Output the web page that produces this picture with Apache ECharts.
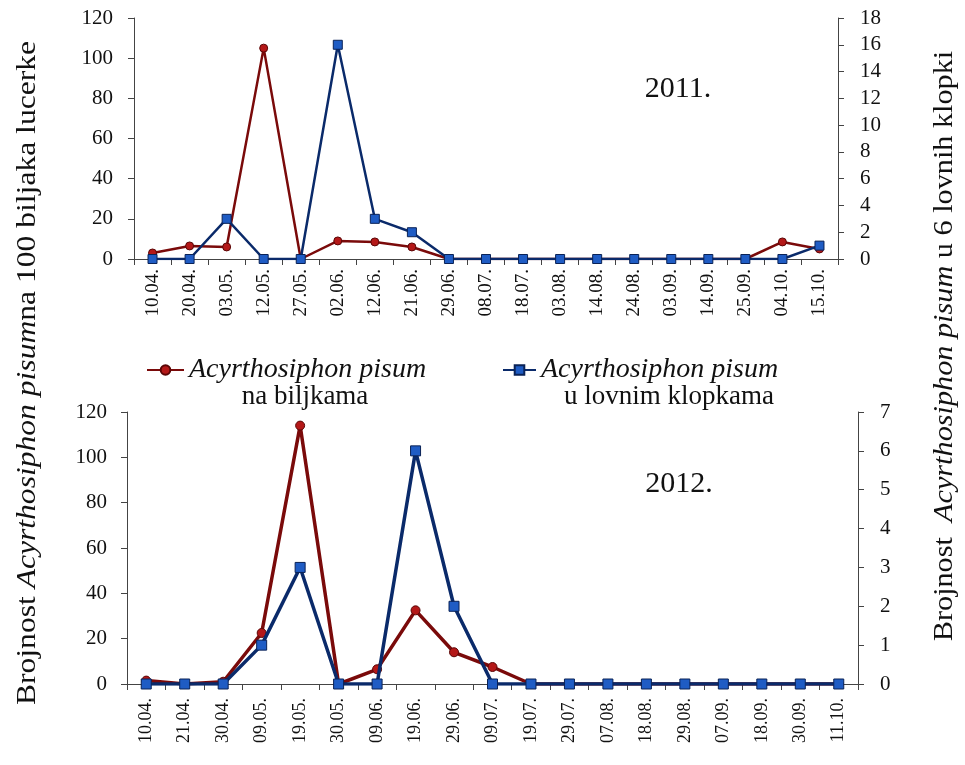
<!DOCTYPE html>
<html>
<head>
<meta charset="utf-8">
<script src="https://cdn.jsdelivr.net/npm/echarts@6/dist/echarts.min.js"></script>
<style>html,body{margin:0;padding:0;background:#fff;}#c{width:965px;height:765px;}</style>
</head>
<body>
<div id="c"></div>
<script>
var dates2011 = ['10.04.','20.04.','03.05.','12.05.','27.05.','02.06.','12.06.','21.06.','29.06.','08.07.','18.07.','03.08.','14.08.','24.08.','03.09.','14.09.','25.09.','04.10.','15.10.'];
var plants2011 = [3,6.5,6,105,0,9,8.5,6,0,0,0,0,0,0,0,0,0,8.5,5];
var traps2011 = [0,0,3,0,0,16,3,2,0,0,0,0,0,0,0,0,0,0,1];
var dates2012 = ['10.04.','21.04.','30.04.','09.05.','19.05.','30.05.','09.06.','19.06.','29.06.','09.07.','19.07.','29.07.','07.08.','18.08.','29.08.','07.09.','18.09.','30.09.','11.10.'];
var plants2012 = [1.5,0,1,22.5,114,0,6.5,32.5,14,7.5,0,0,0,0,0,0,0,0,0];
var traps2012 = [0,0,0,1,3,0,0,6,2,0,0,0,0,0,0,0,0,0,0];
var leftTicks2011 = [0,120,20], rightTicks2011 = [0,18,2];
var leftTicks2012 = [0,120,20], rightTicks2012 = [0,7,1];

var SERIF = '"Liberation Serif", "Times New Roman", serif';
var RED = '#7a0a0a', BLUE = '#0a2a6a';
var NAME_P = 'plants', NAME_T = 'traps';

function xAxis(idx, data, margin, fs){
  return {type:'category', gridIndex:idx, data:data, boundaryGap:true,
    axisLine:{lineStyle:{color:'#444',width:1}},
    axisTick:{show:true, alignWithLabel:false, length:6, lineStyle:{color:'#444'}},
    axisLabel:{rotate:90, interval:0, margin:margin, color:'#111', fontFamily:SERIF, fontSize:fs}};
}
function yAxis(idx, t, pos, margin){
  return {type:'value', gridIndex:idx, position:pos, min:t[0], max:t[1], interval:t[2],
    splitLine:{show:false},
    axisLine:{show:true, lineStyle:{color:'#444',width:1}},
    axisTick:{show:true, length:6, lineStyle:{color:'#444'}},
    axisLabel:{margin:margin, color:'#111', fontFamily:SERIF, fontSize:21}};
}
function redSeries(x, y, data, w, s){
  return {name:NAME_P, type:'line', xAxisIndex:x, yAxisIndex:y, data:data,
    symbol:'circle', symbolSize:s, lineStyle:{color:RED,width:w},
    itemStyle:{color:'#b41818', borderColor:'#5a0606', borderWidth:1}, z:3};
}
function blueSeries(x, y, data, w, s){
  return {name:NAME_T, type:'line', xAxisIndex:x, yAxisIndex:y, data:data,
    symbol:'rect', symbolSize:s, lineStyle:{color:BLUE,width:w},
    itemStyle:{color:'#1f5cc4', borderColor:'#0a2256', borderWidth:1}, z:4};
}
function rotTitle(x, y, sc, parts){
  return {type:'text', x:x, y:y, rotation:Math.PI/2, scaleX:sc, scaleY:1,
    style:{text:'{a|'+parts[0]+'}{b|'+parts[1]+'}{a|'+parts[2]+'}', align:'center', verticalAlign:'middle',
      rich:{a:{fontFamily:SERIF, fontSize:27, fill:'#111', color:'#111'},
            b:{fontFamily:SERIF, fontSize:27, fontStyle:'italic', fill:'#111', color:'#111'}}}};
}

var chart = echarts.init(document.getElementById('c'), null, {renderer:'canvas'});
chart.setOption({
  backgroundColor:'#fff',
  animation:false,
  grid:[
    {left:134, width:704, top:18, height:241},
    {left:127, width:731, top:412, height:272}
  ],
  xAxis:[xAxis(0, dates2011, 10, 19), xAxis(1, dates2012, 14, 18)],
  yAxis:[
    yAxis(0, leftTicks2011, 'left', 21), yAxis(0, rightTicks2011, 'right', 22),
    yAxis(1, leftTicks2012, 'left', 20), yAxis(1, rightTicks2012, 'right', 22)
  ],
  legend:[
    {data:[NAME_P], left:141, top:351, itemWidth:37, itemHeight:12, itemGap:0,
     formatter:function(){return 'Acyrthosiphon pisum';},
     textStyle:{fontFamily:SERIF, fontStyle:'italic', fontSize:28, color:'#111'}},
    {data:[NAME_T], left:497, top:351, itemWidth:33, itemHeight:12, itemGap:0,
     formatter:function(){return 'Acyrthosiphon pisum';},
     textStyle:{fontFamily:SERIF, fontStyle:'italic', fontSize:28, color:'#111'}}
  ],
  series:[
    redSeries(0,0,plants2011,2.5,8), blueSeries(0,1,traps2011,2.5,9),
    redSeries(1,2,plants2012,3.5,9), blueSeries(1,3,traps2012,3.5,10)
  ],
  graphic:[
    {type:'text', x:678, y:89, style:{text:'2011.', font:'30px '+SERIF, fill:'#111', align:'center', verticalAlign:'middle'}},
    {type:'text', x:679, y:484, style:{text:'2012.', font:'30px '+SERIF, fill:'#111', align:'center', verticalAlign:'middle'}},
    {type:'text', x:305, y:397, style:{text:'na biljkama', font:'27px '+SERIF, fill:'#111', align:'center', verticalAlign:'middle'}},
    {type:'text', x:669, y:397, style:{text:'u lovnim klopkama', font:'27px '+SERIF, fill:'#111', align:'center', verticalAlign:'middle'}},
    rotTitle(28, 373, 1.17, ['Brojnost ','Acyrthosiphon pisum','na 100 biljaka lucerke']),
    rotTitle(945, 346, 1.12, ['Brojnost  ','Acyrthosiphon pisum',' u 6 lovnih klopki'])
  ]
});
</script>
</body>
</html>
